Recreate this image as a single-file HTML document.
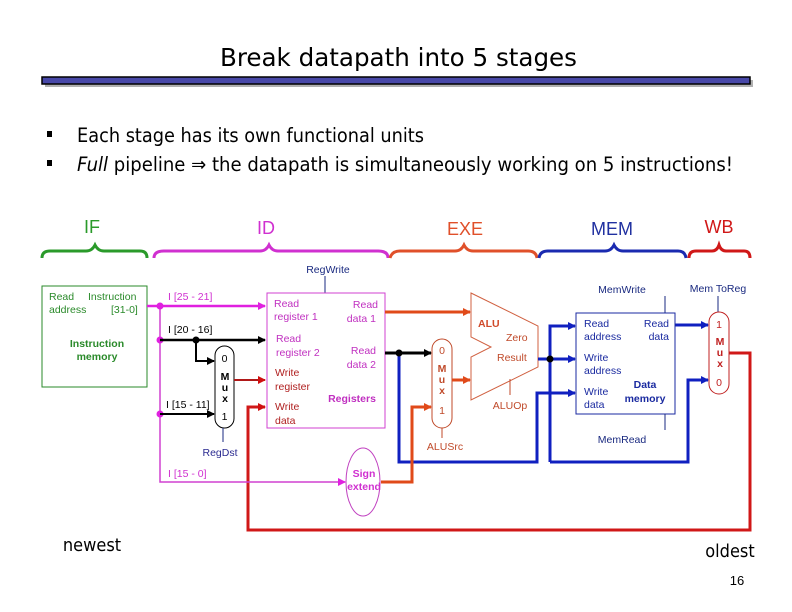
<!DOCTYPE html>
<html><head><meta charset="utf-8"><style>
html,body{margin:0;padding:0;background:#fff;}
svg{display:block;}
text{font-family:"Liberation Sans",Arial,sans-serif;}
.t{font-family:"DejaVu Sans Condensed","DejaVu Sans","Liberation Sans",sans-serif;}
</style></head><body>
<svg width="792" height="612" viewBox="0 0 792 612" xmlns="http://www.w3.org/2000/svg">
<defs>
<marker id="aK" markerWidth="8" markerHeight="8" refX="7" refY="4" orient="auto" markerUnits="userSpaceOnUse"><path d="M0,0 L8,4 L0,8z" fill="#000"/></marker>
<marker id="aM" markerWidth="8" markerHeight="8" refX="7" refY="4" orient="auto" markerUnits="userSpaceOnUse"><path d="M0,0 L8,4 L0,8z" fill="#e020e0"/></marker>
<marker id="aO" markerWidth="8" markerHeight="8" refX="7" refY="4" orient="auto" markerUnits="userSpaceOnUse"><path d="M0,0 L8,4 L0,8z" fill="#e04a1a"/></marker>
<marker id="aR" markerWidth="8" markerHeight="8" refX="7" refY="4" orient="auto" markerUnits="userSpaceOnUse"><path d="M0,0 L8,4 L0,8z" fill="#d01010"/></marker>
<marker id="aB" markerWidth="8" markerHeight="8" refX="7" refY="4" orient="auto" markerUnits="userSpaceOnUse"><path d="M0,0 L8,4 L0,8z" fill="#1020c0"/></marker>
</defs>

<!-- title -->
<text x="220" y="66" class="t" font-size="25" fill="#000" textLength="357" lengthAdjust="spacingAndGlyphs">Break datapath into 5 stages</text>
<rect x="45" y="80" width="708" height="7" fill="#b0b0b0"/>
<rect x="42" y="77" width="708" height="7" fill="#4848a8" stroke="#000" stroke-width="1.5"/>

<!-- bullets -->
<rect x="47" y="131" width="5" height="6" fill="#000"/>
<rect x="47" y="160" width="5" height="6" fill="#000"/>
<text x="77" y="142" class="t" font-size="19.5" fill="#000" textLength="347" lengthAdjust="spacingAndGlyphs">Each stage has its own functional units</text>
<text x="77" y="171" class="t" font-size="19.5" fill="#000" textLength="656" lengthAdjust="spacingAndGlyphs"><tspan font-style="italic">Full</tspan> pipeline ⇒ the datapath is simultaneously working on 5 instructions!</text>

<!-- stage labels -->
<text x="92" y="233" font-size="18" fill="#2a9a2a" text-anchor="middle">IF</text>
<text x="266" y="234" font-size="18" fill="#d030d0" text-anchor="middle">ID</text>
<text x="465" y="235" font-size="18" fill="#e0502a" text-anchor="middle">EXE</text>
<text x="612" y="235" font-size="18" fill="#2030a0" text-anchor="middle">MEM</text>
<text x="719" y="233" font-size="18" fill="#d01818" text-anchor="middle">WB</text>

<!-- braces -->
<g fill="none" stroke-width="3">
<path d="M42,258 Q42,251 50,251 L86,251 Q92,251 95,245 Q98,251 104,251 L140,251 Q147,251 147,258" stroke="#2a9a2a"/>
<path d="M154,258 Q154,251 164,251 L260,251 Q266,251 269,245 Q272,251 278,251 L378,251 Q388,251 388,258" stroke="#d030d0"/>
<path d="M390,258 Q392,251 400,251 L455,251 Q461,251 464,245 Q467,251 473,251 L528,251 Q536,251 537,258" stroke="#e0502a"/>
<path d="M539,258 Q540,251 548,251 L605,251 Q611,251 614,245 Q617,251 623,251 L678,251 Q685,251 686,258" stroke="#1a2ab0"/>
<path d="M689,258 Q689,251 696,251 L712,251 Q717,251 719,245 Q721,251 726,251 L744,251 Q750,251 750,258" stroke="#d01818"/>
</g>

<!-- instruction memory -->
<rect x="42" y="286" width="105" height="101" fill="none" stroke="#2a8a2a" stroke-width="1"/>
<text x="49" y="300" font-size="10.5" fill="#2a8a2a">Read</text>
<text x="88" y="300" font-size="10.5" fill="#2a8a2a">Instruction</text>
<text x="49" y="313" font-size="10.5" fill="#2a8a2a">address</text>
<text x="111" y="313" font-size="10.5" fill="#2a8a2a">[31-0]</text>
<text x="97" y="347" font-size="10.5" font-weight="bold" fill="#2a8a2a" text-anchor="middle">Instruction</text>
<text x="97" y="360" font-size="10.5" font-weight="bold" fill="#2a8a2a" text-anchor="middle">memory</text>

<!-- big red loop -->
<path d="M729,353 L750,353 L750,530 L248,530 L248,407 L265,407" fill="none" stroke="#d01818" stroke-width="3" marker-end="url(#aR)"/>

<!-- magenta fetch lines -->
<path d="M147,306 L265,306" stroke="#e020e0" stroke-width="2.5" fill="none" marker-end="url(#aM)"/>
<path d="M160,306 L160,482 L345,482" stroke="#d040d0" stroke-width="1.5" fill="none" marker-end="url(#aM)"/>
<circle cx="160" cy="306" r="3.5" fill="#e020e0"/>
<circle cx="160" cy="340" r="3.5" fill="#e020e0"/>
<circle cx="160" cy="414" r="3.5" fill="#e020e0"/>
<text x="168" y="300" font-size="10.5" fill="#d030d0">I [25 - 21]</text>
<text x="168" y="333" font-size="10.5" fill="#000">I [20 - 16]</text>
<text x="166" y="408" font-size="10.5" fill="#000">I [15 - 11]</text>
<text x="168" y="477" font-size="10.5" fill="#d030d0">I [15 - 0]</text>

<!-- black lines -->
<path d="M160,340 L265,340" stroke="#000" stroke-width="2.5" fill="none" marker-end="url(#aK)"/>
<circle cx="196" cy="340" r="3.5" fill="#000"/>
<path d="M196,340 L196,361 L214,361" stroke="#000" stroke-width="2" fill="none" marker-end="url(#aK)"/>
<path d="M160,414 L214,414" stroke="#000" stroke-width="2" fill="none" marker-end="url(#aK)"/>

<!-- RegDst mux -->
<rect x="215" y="346" width="19" height="82" rx="9.5" fill="#fff" stroke="#000" stroke-width="1"/>
<text x="224.5" y="362" font-size="10.5" text-anchor="middle">0</text>
<text x="225" y="380" font-size="10.5" font-weight="bold" text-anchor="middle">M</text>
<text x="225" y="391" font-size="10.5" font-weight="bold" text-anchor="middle">u</text>
<text x="225" y="402" font-size="10.5" font-weight="bold" text-anchor="middle">x</text>
<text x="224.5" y="420" font-size="10.5" text-anchor="middle">1</text>
<line x1="223" y1="428" x2="223" y2="442" stroke="#1a2a80" stroke-width="1"/>
<text x="220" y="456" font-size="10.5" fill="#2a2a90" text-anchor="middle">RegDst</text>
<path d="M234,380 L265,380" stroke="#b01818" stroke-width="2" fill="none" marker-end="url(#aR)"/>

<!-- registers -->
<line x1="325" y1="276" x2="325" y2="293" stroke="#1a2a80"/>
<text x="328" y="273" font-size="10.5" fill="#1a2a80" text-anchor="middle">RegWrite</text>
<rect x="267" y="293" width="118" height="135" fill="#fff" stroke="#d040d0" stroke-width="1"/>
<g font-size="10.5" fill="#c030c0">
<text x="274" y="307">Read</text><text x="274" y="320">register 1</text>
<text x="276" y="342">Read</text><text x="276" y="356">register 2</text>
<text x="378" y="308" text-anchor="end">Read</text><text x="376" y="322" text-anchor="end">data 1</text>
<text x="376" y="354" text-anchor="end">Read</text><text x="376" y="368" text-anchor="end">data 2</text>
<text x="352" y="402" text-anchor="middle" font-weight="bold">Registers</text>
</g>
<g font-size="10.5" fill="#b02020">
<text x="275" y="376">Write</text><text x="275" y="390">register</text>
<text x="275" y="410">Write</text><text x="275" y="424">data</text>
</g>

<!-- sign extend -->
<ellipse cx="363" cy="482" rx="17" ry="34" fill="#fff" stroke="#c040c0" stroke-width="1"/>
<text x="364" y="477" font-size="10.5" font-weight="bold" fill="#d030d0" text-anchor="middle">Sign</text>
<text x="364" y="490" font-size="10.5" font-weight="bold" fill="#d030d0" text-anchor="middle">extend</text>

<!-- EXE -->
<path d="M385,312 L470,312" stroke="#e04a1a" stroke-width="3" fill="none" marker-end="url(#aO)"/>
<path d="M385,353 L431,353" stroke="#000" stroke-width="3" fill="none" marker-end="url(#aK)"/>
<path d="M399,353 L399,462 L537,462 L537,393 L575,393" stroke="#1020c0" stroke-width="3" fill="none" marker-end="url(#aB)"/>
<circle cx="399" cy="353" r="3.5" fill="#000"/>
<path d="M381,482 L412,482 L412,407 L431,407" stroke="#e04a1a" stroke-width="3" fill="none" marker-end="url(#aO)"/>
<rect x="432" y="339" width="20" height="89" rx="10" fill="#fff" stroke="#c04a2a" stroke-width="1"/>
<text x="442" y="354" font-size="10.5" fill="#c04a2a" text-anchor="middle">0</text>
<text x="442" y="372" font-size="10.5" font-weight="bold" fill="#c04a2a" text-anchor="middle">M</text>
<text x="442" y="383" font-size="10.5" font-weight="bold" fill="#c04a2a" text-anchor="middle">u</text>
<text x="442" y="394" font-size="10.5" font-weight="bold" fill="#c04a2a" text-anchor="middle">x</text>
<text x="442" y="414" font-size="10.5" fill="#c04a2a" text-anchor="middle">1</text>
<line x1="442" y1="428" x2="442" y2="438" stroke="#c04a2a"/>
<text x="445" y="450" font-size="10.5" fill="#c04a2a" text-anchor="middle">ALUSrc</text>
<path d="M452,380 L470,380" stroke="#e04a1a" stroke-width="3" fill="none" marker-end="url(#aO)"/>
<path d="M471,293 L538,326 L538,367 L471,400 L471,357 L491,347 L471,337 Z" fill="#fff" stroke="#d06040" stroke-width="1"/>
<text x="478" y="327" font-size="10.5" font-weight="bold" fill="#d04a2a">ALU</text>
<text x="506" y="341" font-size="10.5" fill="#c04a2a">Zero</text>
<text x="497" y="361" font-size="10.5" fill="#c04a2a">Result</text>
<line x1="510" y1="379" x2="510" y2="395" stroke="#c04a2a"/>
<text x="510" y="409" font-size="10.5" fill="#c04a2a" text-anchor="middle">ALUOp</text>

<!-- MEM -->
<path d="M538,359 L575,359" stroke="#1020c0" stroke-width="3" fill="none" marker-end="url(#aB)"/>
<path d="M550,462 L550,326 L575,326" stroke="#1020c0" stroke-width="3" fill="none" marker-end="url(#aB)"/>
<path d="M550,462 L688,462 L688,380 L708,380" stroke="#1020c0" stroke-width="3" fill="none" marker-end="url(#aB)"/>
<circle cx="550" cy="359" r="3.5" fill="#000"/>
<path d="M675,325 L708,325" stroke="#1020c0" stroke-width="3" fill="none" marker-end="url(#aB)"/>
<line x1="665" y1="296" x2="665" y2="313" stroke="#1a2a80"/>
<text x="622" y="293" font-size="10.5" fill="#1a2a80" text-anchor="middle">MemWrite</text>
<rect x="576" y="313" width="99" height="101" fill="#fff" stroke="#1a2aa0" stroke-width="1"/>
<g font-size="10.5" fill="#1a2aa0">
<text x="584" y="327">Read</text><text x="584" y="340">address</text>
<text x="669" y="327" text-anchor="end">Read</text><text x="669" y="340" text-anchor="end">data</text>
<text x="584" y="361">Write</text><text x="584" y="374">address</text>
<text x="584" y="395">Write</text><text x="584" y="408">data</text>
<text x="645" y="388" text-anchor="middle" font-weight="bold">Data</text>
<text x="645" y="402" text-anchor="middle" font-weight="bold">memory</text>
</g>
<line x1="665" y1="414" x2="665" y2="430" stroke="#1a2a80"/>
<text x="622" y="443" font-size="10.5" fill="#1a2a80" text-anchor="middle">MemRead</text>

<!-- WB -->
<line x1="718" y1="296" x2="718" y2="312" stroke="#1a2a80"/>
<text x="718" y="292" font-size="10.5" fill="#1a2a80" text-anchor="middle">Mem ToReg</text>
<rect x="709" y="312" width="20" height="82" rx="10" fill="#fff" stroke="#c02020" stroke-width="1"/>
<text x="719" y="328" font-size="10.5" fill="#c02020" text-anchor="middle">1</text>
<text x="720" y="345" font-size="10.5" font-weight="bold" fill="#c02020" text-anchor="middle">M</text>
<text x="720" y="356" font-size="10.5" font-weight="bold" fill="#c02020" text-anchor="middle">u</text>
<text x="720" y="367" font-size="10.5" font-weight="bold" fill="#c02020" text-anchor="middle">x</text>
<text x="719" y="386" font-size="10.5" fill="#c02020" text-anchor="middle">0</text>

<!-- footer -->
<text x="92" y="551" class="t" font-size="18" fill="#000" text-anchor="middle">newest</text>
<text x="730" y="557" class="t" font-size="18" fill="#000" text-anchor="middle">oldest</text>
<text x="737" y="585" font-size="13" fill="#000" text-anchor="middle">16</text>
</svg>
</body></html>
